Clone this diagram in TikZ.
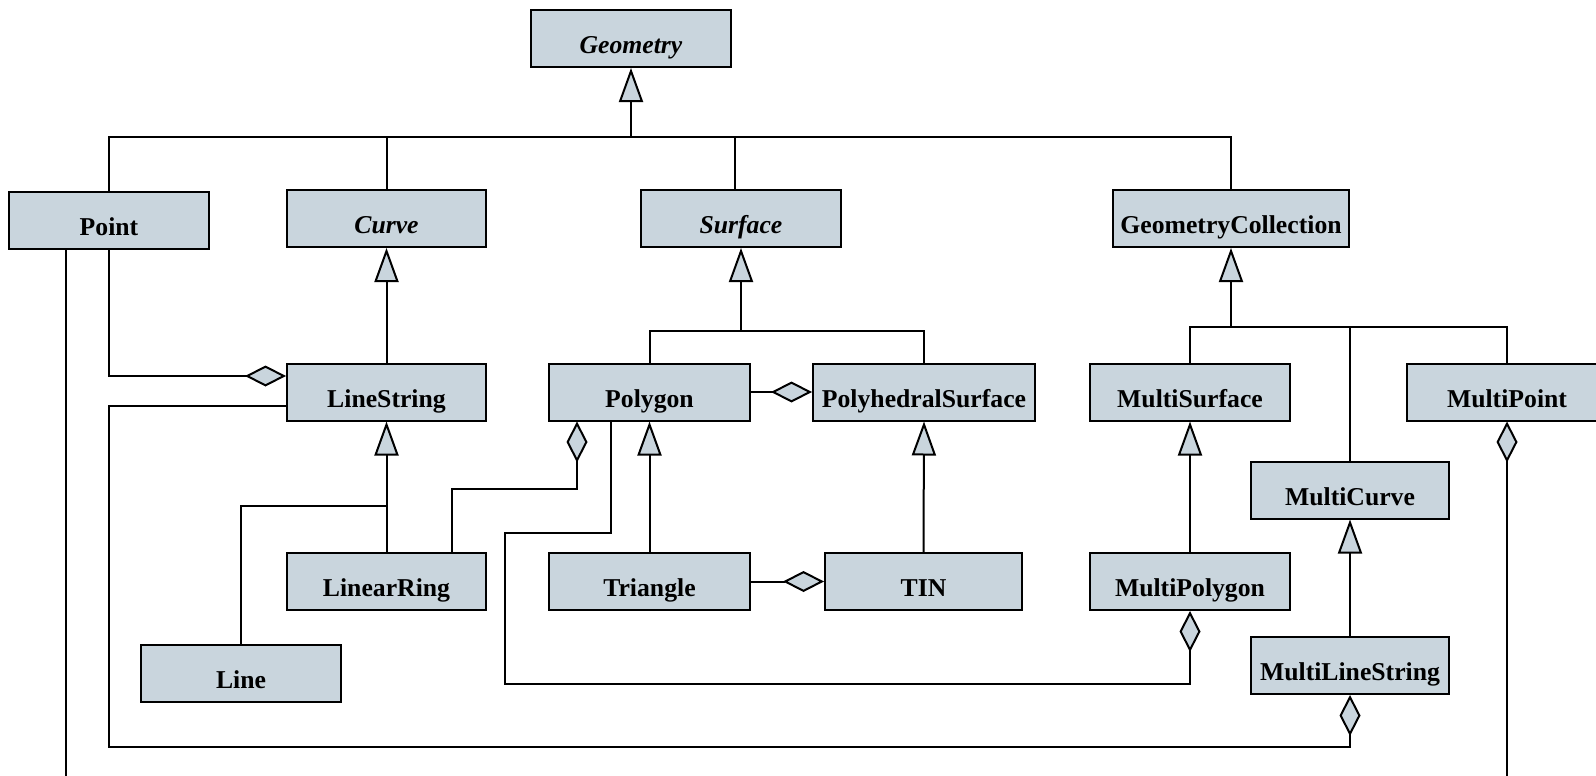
\documentclass[tikz,border=0pt]{standalone}
\usepackage{fontspec}
\setmainfont{Liberation Serif}
\usetikzlibrary{arrows.meta}
\definecolor{boxfill}{HTML}{C9D5DD}
\begin{document}
\begin{tikzpicture}[x=1pt,y=-1pt,
  box/.style={draw=black, fill=boxfill, line width=2pt, minimum height=57pt, inner sep=0pt,
    text height=30pt, text depth=0pt, font=\fontsize{25.7}{30}\selectfont\bfseries},
  abstract/.style={box, font=\fontsize{25.7}{30}\selectfont\bfseries\itshape},
  conn/.style={draw=black, line width=2pt, line join=miter},
  inh/.style={conn, -{Triangle[width=24pt,length=34pt,fill=boxfill]}},
  agg/.style={conn, -{Diamond[width=21pt,length=41pt,fill=boxfill]}},
]
\clip (0,0) rectangle (1596,776);
\fill[white] (0,0) rectangle (1596,776);

% boxes
\node[abstract, minimum width=200pt] (geometry) at (631,38.5) {Geometry};
\node[box, minimum width=200pt] (point) at (109,220.5) {Point};
\node[abstract, minimum width=199pt] (curve) at (386.5,218.5) {Curve};
\node[abstract, minimum width=200pt] (surface) at (741,218.5) {Surface};
\node[box, minimum width=236pt] (gc) at (1231,218.5) {GeometryCollection};
\node[box, minimum width=199pt] (linestring) at (386.5,392) {LineString};
\node[box, minimum width=201pt] (polygon) at (649.5,392) {Polygon};
\node[box, minimum width=222pt] (polyhedral) at (924,392) {PolyhedralSurface};
\node[box, minimum width=200pt] (multisurface) at (1190,392) {MultiSurface};
\node[box, minimum width=200pt] (multipoint) at (1507,392) {MultiPoint};
\node[box, minimum width=198pt] (multicurve) at (1350,490) {MultiCurve};
\node[box, minimum width=199pt] (linearring) at (386.5,581.5) {LinearRing};
\node[box, minimum width=201pt] (triangle) at (649.5,581.5) {Triangle};
\node[box, minimum width=197pt] (tin) at (923.5,581.5) {TIN};
\node[box, minimum width=200pt] (multipolygon) at (1190,581.5) {MultiPolygon};
\node[box, minimum width=198pt] (mls) at (1350,665.5) {MultiLineString};
\node[box, minimum width=200pt] (line) at (241,673.5) {Line};

% helper coordinates
\coordinate (b1) at (631,137);
\coordinate (b2) at (741,331);
\coordinate (b3) at (1231,327);
\coordinate (j1) at (386.5,506);
\coordinate (lr1) at (577,489);
\coordinate (pm1) at (505,533);
\coordinate (pm2) at (1190,684);
\coordinate (lm1) at (109,747);

% generalization: Geometry
\draw[inh] (b1) -- (geometry.south);
\draw[conn] (point.north) |- (b1) -| (gc.north);
\draw[conn] (curve.north) -- (curve.north |- b1);
\draw[conn] ([xshift=-6pt]surface.north) -- ++(0,-53);

% Curve
\draw[inh] (linestring.north) -- (curve.south);
\draw[inh] (linearring.north) -- (linestring.south);
\draw[conn] (line.north) |- (j1);

% Surface
\draw[inh] (b2) -- (surface.south);
\draw[conn] (polygon.north) |- (b2) -| (polyhedral.north);
\draw[inh] (triangle.north) -- (polygon.south);
\draw[inh] (tin.north) -- (polyhedral.south);

% GeometryCollection
\draw[inh] (b3) -- (gc.south);
\draw[conn] (multisurface.north) |- (b3) -| (multipoint.north);
\draw[conn] (multicurve.north) -- (multicurve.north |- b3);
\draw[inh] (multipolygon.north) -- (multisurface.south);
\draw[inh] (mls.north) -- (multicurve.south);

% aggregations
\draw[agg] (point.south) |- ([yshift=16pt]linestring.west);
\draw[agg] (polygon.east) -- (polyhedral.west);
\draw[agg] (triangle.east) -- (tin.west);
\draw[agg] ([xshift=65.5pt]linearring.north) |- (lr1) -- ([xshift=-72.5pt]polygon.south);
\draw[agg] ([xshift=-38.5pt]polygon.south) |- (pm1) |- (pm2) -- (multipolygon.south);
\draw[agg] ([yshift=-14pt]linestring.west) -| (lm1) -| (mls.south);
\draw[agg] ([xshift=-43pt]point.south) -- ++(0,560) -| (multipoint.south);
\end{tikzpicture}
\end{document}
